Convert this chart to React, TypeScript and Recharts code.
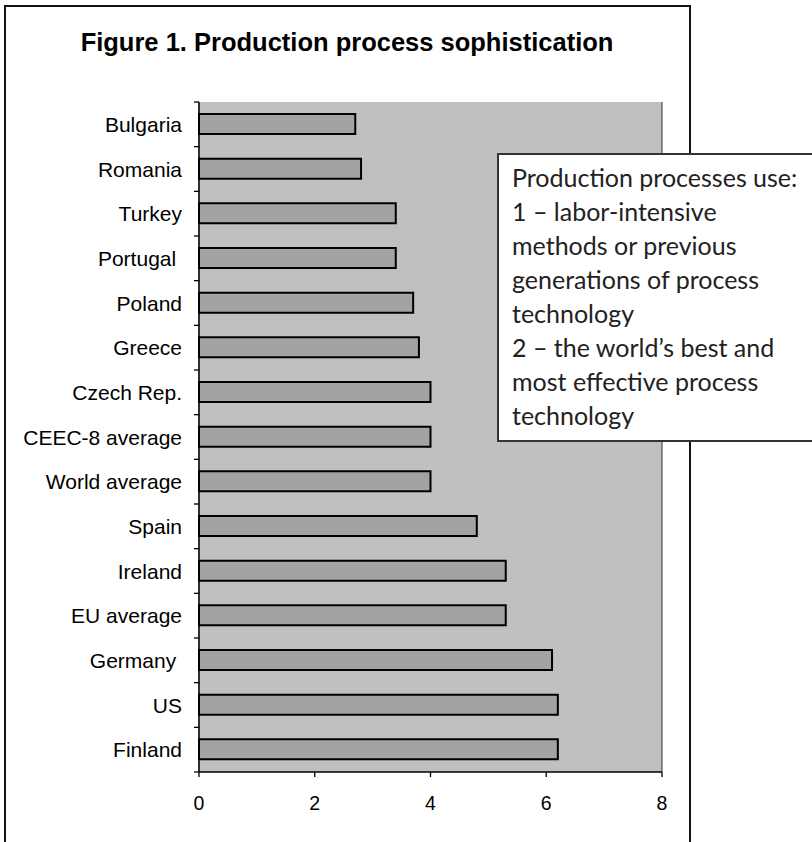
import React from "react";
import { BarChart, Bar, XAxis, YAxis, CartesianGrid } from "recharts";

const categories = [
  "Bulgaria",
  "Romania",
  "Turkey",
  "Portugal\u00A0",
  "Poland",
  "Greece",
  "Czech Rep.",
  "CEEC-8 average",
  "World average",
  "Spain",
  "Ireland",
  "EU average",
  "Germany\u00A0",
  "US",
  "Finland",
];
const values = [2.7, 2.8, 3.4, 3.4, 3.7, 3.8, 4.0, 4.0, 4.0, 4.8, 5.3, 5.3, 6.1, 6.2, 6.2];
const xTicks = [0, 2, 4, 6, 8];
const titleText = "Figure 1. Production process sophistication";
const noteLines = [
  "Production processes use:",
  "1 \u2013 labor-intensive",
  "methods or previous",
  "generations of process",
  "technology",
  "2 \u2013 the world\u2019s best and",
  "most effective process",
  "technology",
];

const data = categories.map((name, i) => ({ name, value: values[i] }));

const W = 812;
const H = 842;
const MARGIN = { top: 102, right: 150, bottom: 0, left: 0 };
const Y_AXIS_W = 199;
const X_AXIS_H = 70;
const TICK_SIZE = 5;
const TICK_MARGIN = 12;
const FONT = "'Liberation Sans', Arial, sans-serif";

const YTick = (props: any) => {
  const { x, y, payload, index } = props;
  const plotH = H - MARGIN.top - MARGIN.bottom - X_AXIS_H;
  const half =
    payload && typeof payload.offset === "number" && payload.offset > 0
      ? payload.offset
      : plotH / categories.length / 2;
  const axisX = x + TICK_SIZE + TICK_MARGIN;
  return (
    <g>
      <line x1={axisX - TICK_SIZE} x2={axisX} y1={y - half} y2={y - half} stroke="#000" strokeWidth={1.3} />
      {index === categories.length - 1 && (
        <line x1={axisX - TICK_SIZE} x2={axisX} y1={y + half} y2={y + half} stroke="#000" strokeWidth={1.3} />
      )}
      <text
        x={x}
        y={y}
        dy="0.36em"
        textAnchor="end"
        fontFamily={FONT}
        fontSize={21}
        fill="#000"
        style={{ whiteSpace: "pre" }}
      >
        {payload.value}
      </text>
    </g>
  );
};

export default function App() {
  return (
    <div style={{ position: "absolute", left: 0, top: 0, width: W, height: H, overflow: "hidden", background: "#fff" }}>
      <div
        style={{
          position: "absolute",
          left: 4,
          top: 5,
          width: 687,
          height: H - 5,
          borderLeft: "2px solid #111",
          borderTop: "2px solid #111",
          borderRight: "2px solid #111",
          boxSizing: "border-box",
        }}
      />
      <div
        style={{
          position: "absolute",
          left: 0,
          top: 28,
          width: 694,
          textAlign: "center",
          fontFamily: FONT,
          fontWeight: "bold",
          fontSize: 25.5,
          color: "#000",
          whiteSpace: "nowrap",
        }}
      >
        {titleText}
      </div>
      <div style={{ position: "absolute", left: 0, top: 0 }}>
        <BarChart width={W} height={H} data={data} layout="vertical" margin={MARGIN}>
          <CartesianGrid horizontal={false} vertical={true} fill="#c0c0c0" stroke="#333" strokeWidth={1} />
          <XAxis
            xAxisId="bottom"
            type="number"
            domain={[0, 8]}
            ticks={xTicks}
            interval={0}
            height={X_AXIS_H}
            axisLine={{ stroke: "#000", strokeWidth: 1.3 }}
            tickLine={{ stroke: "#000", strokeWidth: 1.3 }}
            tickSize={TICK_SIZE}
            tickMargin={19}
            tick={{ fontFamily: FONT, fontSize: 19.5, fill: "#000" }}
          />
          <XAxis
            xAxisId="top"
            orientation="top"
            type="number"
            domain={[0, 8]}
            height={0}
            tick={false}
            tickLine={false}
            axisLine={{ stroke: "#8a8a8a", strokeWidth: 2 }}
          />
          <YAxis
            yAxisId="left"
            type="category"
            dataKey="name"
            width={Y_AXIS_W}
            interval={0}
            axisLine={{ stroke: "#000", strokeWidth: 1.3 }}
            tickLine={false}
            tickSize={TICK_SIZE}
            tickMargin={TICK_MARGIN}
            tick={<YTick />}
          />
          <YAxis
            yAxisId="right"
            orientation="right"
            type="category"
            dataKey="name"
            width={0}
            tick={false}
            tickLine={false}
            axisLine={{ stroke: "#8a8a8a", strokeWidth: 2 }}
          />
          <Bar
            xAxisId="bottom"
            yAxisId="left"
            dataKey="value"
            barSize={20}
            fill="#a3a3a3"
            stroke="#000"
            strokeWidth={2}
            isAnimationActive={false}
          />
        </BarChart>
      </div>
      <div
        style={{
          position: "absolute",
          left: 497,
          top: 153,
          width: W - 497,
          height: 442 - 153,
          background: "#fff",
          borderLeft: "2px solid #333",
          borderTop: "2px solid #333",
          borderBottom: "2px solid #333",
          boxSizing: "border-box",
          padding: "5px 0 0 13px",
          fontFamily: "Lato, 'Open Sans', sans-serif",
          fontSize: 25,
          lineHeight: "34px",
          color: "#222",
          whiteSpace: "nowrap",
        }}
      >
        {noteLines.map((l, i) => (
          <div key={i}>{l}</div>
        ))}
      </div>
    </div>
  );
}
